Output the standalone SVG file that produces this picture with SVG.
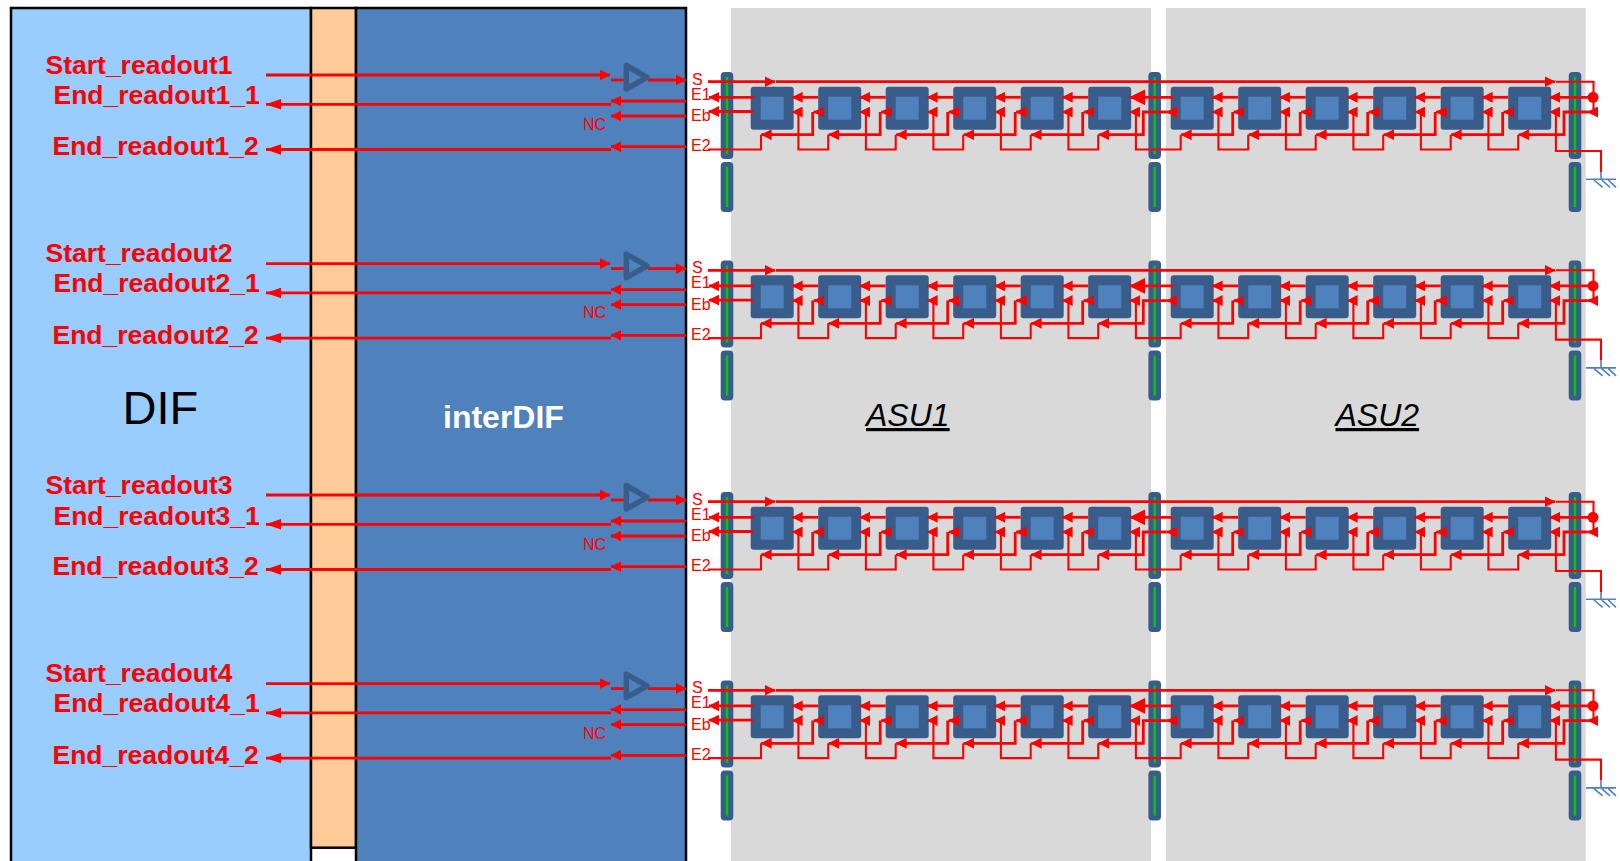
<svg xmlns="http://www.w3.org/2000/svg" width="1620" height="861" viewBox="0 0 1620 861">
<style>
text{font-family:"Liberation Sans",Arial,sans-serif}
.sig{fill:#f00;font-size:26.5px;font-weight:700}
.pin{fill:#f00;font-size:16px}
.asu{fill:#000;font-size:32px;font-style:italic;text-decoration:underline}
.c{fill:none;stroke:#f00;stroke-width:2.8}
.t{fill:none;stroke:#f00;stroke-width:2.1}
.a{marker-end:url(#ah)}
.b{marker-end:url(#bh)}
.m{marker-end:url(#mh)}
.g{fill:none;stroke:#00cc00;stroke-width:2.4}
.gnd{fill:none;stroke:#4f81bd;stroke-width:1.6}
.box{stroke:#000;stroke-width:2.5}
</style>
<defs>
<marker id="ah" markerUnits="userSpaceOnUse" markerWidth="11" markerHeight="11" refX="9.5" refY="5" orient="auto" viewBox="0 0 10 10"><path d="M0,0L10,5L0,10z" fill="#f00"/></marker>
<marker id="bh" markerUnits="userSpaceOnUse" markerWidth="16" markerHeight="11" refX="14.5" refY="5" orient="auto" viewBox="0 0 15 10"><path d="M0,0L15,5L0,10z" fill="#f00"/></marker>
<marker id="mh" markerUnits="userSpaceOnUse" markerWidth="16" markerHeight="16" refX="14.5" refY="7.5" orient="auto" viewBox="0 0 15 15"><path d="M0,0L15,7.5L0,15z" fill="#f00"/></marker>
<g id="cell"><rect width="43" height="43" rx="3" fill="#385d8a"/><rect x="10" y="10" width="23" height="23" fill="#4f81bd"/></g>
<g id="bar"><rect x="0" y="0" width="12.6" height="87" rx="4" fill="#385d8a"/><path class="g" d="M6.3,5V82"/><rect x="0" y="90" width="12.6" height="50" rx="4" fill="#385d8a"/><path class="g" d="M6.3,95V135"/></g>
<g id="buffer"><path d="M626.3,65.5L647,77.3L626.3,89z" fill="#4f81bd" stroke="#385d8a" stroke-width="5.5" stroke-linejoin="round"/></g>
<g id="rowConn">
<path class="c a" d="M266,75H610"/>
<path class="c" d="M611,80H625"/>
<path class="c a" d="M648,80H686"/>
<path class="c b" d="M611,104.3H266"/>
<path class="c a" d="M686,101H611"/>
<path class="c a" d="M686,116H611"/>
<path class="c b" d="M611,149.5H266"/>
<path class="c a" d="M686,146.7H611"/>
<path class="c a" d="M708,81.7H775"/>
<path class="c a" d="M776,81.7H1555"/>
<path class="t" d="M1556,81.7H1593.5V112"/>
<path class="c a" d="M754,97.3H709"/>
<path class="c a" d="M753,111.5H708.7"/>
<path class="t" d="M708,149.5H761V134.7"/>
<path class="c a" d="M818.2,97.3H792.2"/><path class="t a" d="M828.2,134.7V149.5H798.4V112H792.2"/><path class="c a" d="M823.7,112H813.7"/><path class="c a" d="M812.7,112V134.7H761.2"/>
<path class="c a" d="M885.7,97.3H859.7"/><path class="t a" d="M895.7,134.7V149.5H865.9V112H859.7"/><path class="c a" d="M891.2,112H881.2"/><path class="c a" d="M880.2,112V134.7H828.7"/>
<path class="c a" d="M953.2,97.3H927.2"/><path class="t a" d="M963.2,134.7V149.5H933.4V112H927.2"/><path class="c a" d="M958.7,112H948.7"/><path class="c a" d="M947.7,112V134.7H896.2"/>
<path class="c a" d="M1020.7,97.3H994.7"/><path class="t a" d="M1030.7,134.7V149.5H1000.9V112H994.7"/><path class="c a" d="M1026.2,112H1016.2"/><path class="c a" d="M1015.2,112V134.7H963.7"/>
<path class="c a" d="M1088.2,97.3H1062.2"/><path class="t a" d="M1098.2,134.7V149.5H1068.4V112H1062.2"/><path class="c a" d="M1093.7,112H1083.7"/><path class="c a" d="M1082.7,112V134.7H1031.2"/>
<path class="c m" d="M1173,97.3H1129.7"/><path class="t a" d="M1180.7,134.7V149.5H1135.9V112H1129.7"/><path class="c a" d="M1177,112H1166.7"/><path class="c a" d="M1166.7,112H1143.3V134.7H1098.7"/>
<path class="c a" d="M1238.2,97.3H1212.2"/><path class="t a" d="M1248.2,134.7V149.5H1218.4V112H1212.2"/><path class="c a" d="M1243.7,112H1233.7"/><path class="c a" d="M1232.7,112V134.7H1181.2"/>
<path class="c a" d="M1305.7,97.3H1279.7"/><path class="t a" d="M1315.7,134.7V149.5H1285.9V112H1279.7"/><path class="c a" d="M1311.2,112H1301.2"/><path class="c a" d="M1300.2,112V134.7H1248.7"/>
<path class="c a" d="M1373.2,97.3H1347.2"/><path class="t a" d="M1383.2,134.7V149.5H1353.4V112H1347.2"/><path class="c a" d="M1378.7,112H1368.7"/><path class="c a" d="M1367.7,112V134.7H1316.2"/>
<path class="c a" d="M1440.7,97.3H1414.7"/><path class="t a" d="M1450.7,134.7V149.5H1420.9V112H1414.7"/><path class="c a" d="M1446.2,112H1436.2"/><path class="c a" d="M1435.2,112V134.7H1383.7"/>
<path class="c a" d="M1508.2,97.3H1482.2"/><path class="t a" d="M1518.2,134.7V149.5H1488.4V112H1482.2"/><path class="c a" d="M1513.7,112H1503.7"/><path class="c a" d="M1502.7,112V134.7H1451.2"/>
<path class="c a" d="M1593,97.3H1549.7"/><circle cx="1593" cy="97.3" r="5.5" fill="#f00"/>
<path class="t a" d="M1601,172V151H1555.9V112H1549.7"/>
<path class="c a" d="M1597.7,112H1587.7"/><path class="c a" d="M1587.7,112H1564V134.7H1518.7"/>
<path class="gnd" d="M1601,172V179.3M1586,179.3H1616M1594,180L1602.7,187.3M1601.7,180L1610,187.3M1608.3,180L1616,187.3"/>
</g>
</defs>

<g id="backgrounds">
<rect id="asu1-bg" x="731" y="8" width="420" height="853" fill="#d9d9d9"/>
<rect id="asu2-bg" x="1166" y="8" width="419.7" height="853" fill="#d9d9d9"/>
</g>
<g id="dif"><rect class="box" x="11" y="8" width="300" height="860" fill="#99ccff"/><text x="122.5" y="424" font-size="47" fill="#000">DIF</text></g>
<g id="interface"><rect class="box" x="311" y="8" width="45" height="839.7" fill="#ffcc99"/></g>
<g id="interdif"><rect class="box" x="356" y="8" width="330" height="860" fill="#4f81bd"/><text x="443" y="428" font-size="32" font-weight="700" fill="#fff">interDIF</text></g>
<g id="asu1"><text class="asu" x="866" y="426">ASU1</text></g>
<g id="asu2"><text class="asu" x="1335.5" y="426">ASU2</text></g>

<g id="row1-cells">
<g id="bar1-1"><use href="#bar" x="720.7" y="72"/></g><g id="bar1-2"><use href="#bar" x="1148.4" y="72"/></g><g id="bar1-3"><use href="#bar" x="1568.7" y="72"/></g>
<g id="n1-1"><use href="#cell" x="750.7" y="86.7"/></g><g id="n1-2"><use href="#cell" x="818.2" y="86.7"/></g><g id="n1-3"><use href="#cell" x="885.7" y="86.7"/></g><g id="n1-4"><use href="#cell" x="953.2" y="86.7"/></g><g id="n1-5"><use href="#cell" x="1020.7" y="86.7"/></g><g id="n1-6"><use href="#cell" x="1088.2" y="86.7"/></g>
<g id="n1-7"><use href="#cell" x="1170.7" y="86.7"/></g><g id="n1-8"><use href="#cell" x="1238.2" y="86.7"/></g><g id="n1-9"><use href="#cell" x="1305.7" y="86.7"/></g><g id="n1-10"><use href="#cell" x="1373.2" y="86.7"/></g><g id="n1-11"><use href="#cell" x="1440.7" y="86.7"/></g><g id="n1-12"><use href="#cell" x="1508.2" y="86.7"/></g>
</g>
<g id="row2-cells">
<g id="bar2-1"><use href="#bar" x="720.7" y="260.6"/></g><g id="bar2-2"><use href="#bar" x="1148.4" y="260.6"/></g><g id="bar2-3"><use href="#bar" x="1568.7" y="260.6"/></g>
<g id="n2-1"><use href="#cell" x="750.7" y="275.3"/></g><g id="n2-2"><use href="#cell" x="818.2" y="275.3"/></g><g id="n2-3"><use href="#cell" x="885.7" y="275.3"/></g><g id="n2-4"><use href="#cell" x="953.2" y="275.3"/></g><g id="n2-5"><use href="#cell" x="1020.7" y="275.3"/></g><g id="n2-6"><use href="#cell" x="1088.2" y="275.3"/></g>
<g id="n2-7"><use href="#cell" x="1170.7" y="275.3"/></g><g id="n2-8"><use href="#cell" x="1238.2" y="275.3"/></g><g id="n2-9"><use href="#cell" x="1305.7" y="275.3"/></g><g id="n2-10"><use href="#cell" x="1373.2" y="275.3"/></g><g id="n2-11"><use href="#cell" x="1440.7" y="275.3"/></g><g id="n2-12"><use href="#cell" x="1508.2" y="275.3"/></g>
</g>
<g id="row3-cells">
<g id="bar3-1"><use href="#bar" x="720.7" y="492"/></g><g id="bar3-2"><use href="#bar" x="1148.4" y="492"/></g><g id="bar3-3"><use href="#bar" x="1568.7" y="492"/></g>
<g id="n3-1"><use href="#cell" x="750.7" y="506.7"/></g><g id="n3-2"><use href="#cell" x="818.2" y="506.7"/></g><g id="n3-3"><use href="#cell" x="885.7" y="506.7"/></g><g id="n3-4"><use href="#cell" x="953.2" y="506.7"/></g><g id="n3-5"><use href="#cell" x="1020.7" y="506.7"/></g><g id="n3-6"><use href="#cell" x="1088.2" y="506.7"/></g>
<g id="n3-7"><use href="#cell" x="1170.7" y="506.7"/></g><g id="n3-8"><use href="#cell" x="1238.2" y="506.7"/></g><g id="n3-9"><use href="#cell" x="1305.7" y="506.7"/></g><g id="n3-10"><use href="#cell" x="1373.2" y="506.7"/></g><g id="n3-11"><use href="#cell" x="1440.7" y="506.7"/></g><g id="n3-12"><use href="#cell" x="1508.2" y="506.7"/></g>
</g>
<g id="row4-cells">
<g id="bar4-1"><use href="#bar" x="720.7" y="680.6"/></g><g id="bar4-2"><use href="#bar" x="1148.4" y="680.6"/></g><g id="bar4-3"><use href="#bar" x="1568.7" y="680.6"/></g>
<g id="n4-1"><use href="#cell" x="750.7" y="695.3"/></g><g id="n4-2"><use href="#cell" x="818.2" y="695.3"/></g><g id="n4-3"><use href="#cell" x="885.7" y="695.3"/></g><g id="n4-4"><use href="#cell" x="953.2" y="695.3"/></g><g id="n4-5"><use href="#cell" x="1020.7" y="695.3"/></g><g id="n4-6"><use href="#cell" x="1088.2" y="695.3"/></g>
<g id="n4-7"><use href="#cell" x="1170.7" y="695.3"/></g><g id="n4-8"><use href="#cell" x="1238.2" y="695.3"/></g><g id="n4-9"><use href="#cell" x="1305.7" y="695.3"/></g><g id="n4-10"><use href="#cell" x="1373.2" y="695.3"/></g><g id="n4-11"><use href="#cell" x="1440.7" y="695.3"/></g><g id="n4-12"><use href="#cell" x="1508.2" y="695.3"/></g>
</g>

<g id="connectors">
<use href="#rowConn"/>
<use href="#rowConn" y="188.6"/>
<use href="#rowConn" y="420"/>
<use href="#rowConn" y="608.6"/>
</g>

<g id="buffer1"><use href="#buffer"/></g>
<g id="buffer2"><use href="#buffer" y="188.6"/></g>
<g id="buffer3"><use href="#buffer" y="420"/></g>
<g id="buffer4"><use href="#buffer" y="608.6"/></g>

<g id="labels">
<text class="sig" x="45.5" y="74">Start_readout1</text><text class="sig" x="53.5" y="104.3">End_readout1_1</text><text class="sig" x="52.5" y="155.3">End_readout1_2</text>
<text class="pin" x="692" y="85">S</text><text class="pin" x="691" y="100">E1</text><text class="pin" x="691" y="121">Eb</text><text class="pin" x="691" y="151">E2</text><text class="pin" x="583" y="130">NC</text>
<text class="sig" x="45.5" y="261.6">Start_readout2</text><text class="sig" x="53.5" y="292.4">End_readout2_1</text><text class="sig" x="52.5" y="343.9">End_readout2_2</text>
<text class="pin" x="692" y="272.6">S</text><text class="pin" x="691" y="288">E1</text><text class="pin" x="691" y="309.6">Eb</text><text class="pin" x="691" y="339.6">E2</text><text class="pin" x="583" y="318">NC</text>
<text class="sig" x="45.5" y="494">Start_readout3</text><text class="sig" x="53.5" y="524.8">End_readout3_1</text><text class="sig" x="52.5" y="575.3">End_readout3_2</text>
<text class="pin" x="692" y="505">S</text><text class="pin" x="691" y="520">E1</text><text class="pin" x="691" y="541">Eb</text><text class="pin" x="691" y="571">E2</text><text class="pin" x="583" y="550">NC</text>
<text class="sig" x="45.5" y="682">Start_readout4</text><text class="sig" x="53.5" y="711.9">End_readout4_1</text><text class="sig" x="52.5" y="763.9">End_readout4_2</text>
<text class="pin" x="692" y="692.6">S</text><text class="pin" x="691" y="707.6">E1</text><text class="pin" x="691" y="729.6">Eb</text><text class="pin" x="691" y="759.6">E2</text><text class="pin" x="583" y="738.6">NC</text>
</g>
</svg>
